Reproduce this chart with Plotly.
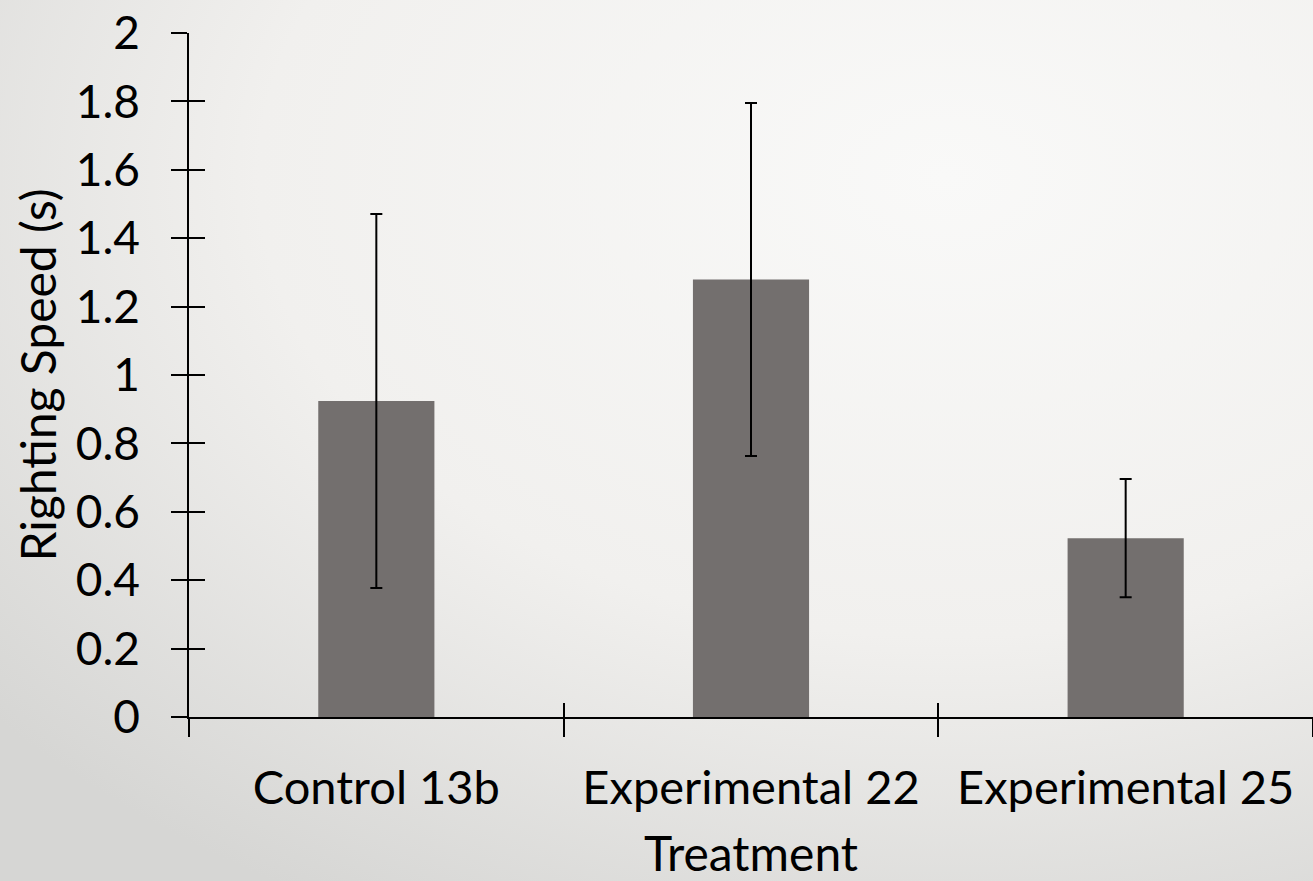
import base64
import plotly.graph_objects as go

categories = ["Control 13b", "Experimental 22", "Experimental 25"]
means = [0.924, 1.279, 0.523]
errors = [0.547, 0.516, 0.173]
y_ticks = [0, 0.2, 0.4, 0.6, 0.8, 1, 1.2, 1.4, 1.6, 1.8, 2]
y_tick_text = ["0", "0.2", "0.4", "0.6", "0.8", "1", "1.2", "1.4", "1.6", "1.8", "2"]

FONT = "Lato"
BAR_COLOR = "#736f6e"

svg = """<svg xmlns='http://www.w3.org/2000/svg' width='1313' height='881'>
<defs><radialGradient id='g' cx='0.72' cy='0.2' r='0.95'>
<stop offset='0' stop-color='#f9f9f8'/>
<stop offset='0.55' stop-color='#f1f0ee'/>
<stop offset='1' stop-color='#d6d6d4'/>
</radialGradient></defs>
<rect width='1313' height='881' fill='url(#g)'/></svg>"""
bg_uri = "data:image/svg+xml;base64," + base64.b64encode(svg.encode()).decode()

fig = go.Figure()
fig.add_trace(go.Bar(
    x=categories, y=means, width=0.31,
    marker=dict(color=BAR_COLOR, line=dict(width=0)),
    error_y=dict(type="data", array=errors, visible=True,
                 color="black", thickness=2, width=6),
    showlegend=False,
))
# invisible helper trace for the inner half of the crossing ticks
fig.add_trace(go.Scatter(
    x=categories, y=means, mode="markers", marker=dict(opacity=0),
    xaxis="x2", yaxis="y2", showlegend=False, hoverinfo="skip",
))

fig.update_layout(
    width=1313, height=881,
    margin=dict(l=189, r=0, t=33, b=164),
    paper_bgcolor="#efeeec",
    plot_bgcolor="rgba(0,0,0,0)",
    font=dict(family=FONT, color="black"),
    images=[dict(source=bg_uri, xref="paper", yref="paper",
                 x=-189/1124, y=1 + 33/684, sizex=1313/1124, sizey=881/684,
                 xanchor="left", yanchor="top", sizing="stretch", layer="below")],
    xaxis=dict(
        type="category", categoryorder="array", categoryarray=categories,
        range=[-0.5, 2.5], tickson="boundaries",
        ticks="outside", ticklen=18, tickwidth=1.5, tickcolor="black",
        showline=True, linecolor="black", linewidth=2,
        showgrid=False, zeroline=False,
        tickfont=dict(size=47, family=FONT), ticklabelstandoff=29,
        title=dict(text="Treatment", font=dict(size=48, family=FONT), standoff=26),
    ),
    yaxis=dict(
        range=[0, 2], tickvals=y_ticks, ticktext=y_tick_text,
        ticks="outside", ticklen=16, tickwidth=1.5, tickcolor="black",
        showline=True, linecolor="black", linewidth=1.5,
        showgrid=False, zeroline=False,
        tickfont=dict(size=46, family=FONT), ticklabelstandoff=22,
        title=dict(text="Righting Speed (s)", font=dict(size=48, family=FONT), standoff=4),
    ),
    xaxis2=dict(
        type="category", categoryorder="array", categoryarray=categories,
        range=[-0.5, 2.5], tickson="boundaries", overlaying="x",
        ticks="inside", ticklen=14, tickwidth=1.5, tickcolor="black",
        showticklabels=False, showgrid=False, zeroline=False, showline=False,
    ),
    yaxis2=dict(
        range=[0, 2], tickvals=y_ticks, overlaying="y",
        ticks="inside", ticklen=16, tickwidth=1.5, tickcolor="black",
        showticklabels=False, showgrid=False, zeroline=False, showline=False,
    ),
)

fig.write_html("out.html", config={"displayModeBar": False},
               post_script="document.body.style.margin='0';")
